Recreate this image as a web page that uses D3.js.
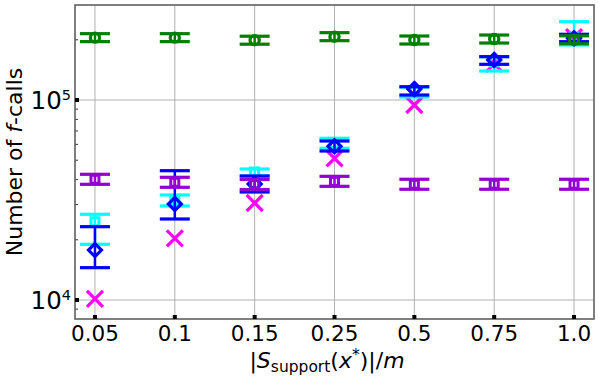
<!DOCTYPE html>
<html><head><meta charset="utf-8">
<script src="https://cdn.jsdelivr.net/npm/d3@7"></script>
<style>body{margin:0;background:#fff}svg{display:block}</style></head>
<body><svg id="c" width="598" height="386"></svg>
<script>
// ---- data ----
const categories = ["0.05", "0.1", "0.15", "0.25", "0.5", "0.75", "1.0"];

const greenVal = [205000, 205000, 199000, 207300, 199500, 201800, 200000];
const greenLo  = [195800, 195800, 190100, 198000, 190500, 192700, 191000];
const greenHi  = [214600, 214600, 208400, 217100, 208900, 211300, 209400];

const purpleVal = [40130, 38770, 37800, 39200, 37900, 37900, 37900];
const purpleLo  = [37880, 36600, 35680, 37010, 35780, 35780, 35780];
const purpleHi  = [42510, 41070, 40040, 41530, 40150, 40150, 40150];

const cyanVal = [24640, 31620, 43650, 60950, 110900, 154900, 206500];
const cyanLo  = [18990, 29510, 41690, 57340, 103500, 139600, 188400];
const cyanHi  = [26830, 33500, 45190, 64340, 116100, 164700, 246400];

const blueVal = [17780, 30200, 38020, 58690, 113500, 158500, 203500];
const blueLo  = [14510, 25410, 34670, 55590, 105900, 150800, 195700];
const blueHi  = [23260, 44320, 41690, 62370, 116500, 164700, 213100];

const magentaVal = [10120, 20350, 30550, 51110, 94410, 151400, 206500];

const yMajorTicks = [1e4, 1e5];
const yMinorTicks = [9e3, 2e4, 3e4, 4e4, 5e4, 6e4, 7e4, 8e4, 9e4, 2e5, 3e5];

// ---- layout ----
const svg = d3.select("#c");
const L = 75, R = 594, T = 5, B = 319;
const font = "'DejaVu Sans', sans-serif";

const x = d3.scalePoint().domain(categories).range([L, R]).padding(0.25);
const y = d3.scaleLog().domain([Math.pow(10, 3.905), Math.pow(10, 5.475)]).range([B, T]);

// grid
const grid = svg.append("g").attr("stroke", "#b0b0b0").attr("stroke-width", 1);
categories.forEach(c => grid.append("line").attr("x1", x(c)).attr("x2", x(c)).attr("y1", T).attr("y2", B));
yMajorTicks.forEach(v => grid.append("line").attr("x1", L).attr("x2", R).attr("y1", y(v)).attr("y2", y(v)));

// minor ticks (inside, left)
yMinorTicks.forEach(v => {
  if (y(v) > T && y(v) < B)
    svg.append("line").attr("x1", L).attr("x2", L + 3).attr("y1", y(v)).attr("y2", y(v))
      .attr("stroke", "#333").attr("stroke-width", 1);
});

// series drawing
const capHalf = 15;
function drawSeries(vals, lo, hi, color, shape) {
  const g = svg.append("g");
  vals.forEach((v, i) => {
    const cx = x(categories[i]);
    if (lo) {
      g.append("line").attr("x1", cx).attr("x2", cx).attr("y1", y(lo[i])).attr("y2", y(hi[i]))
        .attr("stroke", color).attr("stroke-width", 2.5);
      [lo[i], hi[i]].forEach(e => g.append("line")
        .attr("x1", cx - capHalf).attr("x2", cx + capHalf).attr("y1", y(e)).attr("y2", y(e))
        .attr("stroke", color).attr("stroke-width", 3.2));
    }
    const cy = y(v);
    if (shape === "circle") {
      g.append("circle").attr("cx", cx).attr("cy", cy).attr("r", 4.6)
        .attr("fill", "none").attr("stroke", color).attr("stroke-width", 3.2);
    } else if (shape === "square") {
      g.append("rect").attr("x", cx - 4).attr("y", cy - 4).attr("width", 8).attr("height", 8)
        .attr("fill", "none").attr("stroke", color).attr("stroke-width", 3);
    } else if (shape === "diamond") {
      const s = 6.5;
      g.append("path").attr("d", `M${cx},${cy - s}L${cx + s},${cy}L${cx},${cy + s}L${cx - s},${cy}Z`)
        .attr("fill", "none").attr("stroke", color).attr("stroke-width", 3.2);
    } else if (shape === "x") {
      const s = 8;
      g.append("path").attr("d", `M${cx - s},${cy - s}L${cx + s},${cy + s}M${cx - s},${cy + s}L${cx + s},${cy - s}`)
        .attr("fill", "none").attr("stroke", color).attr("stroke-width", 3.2);
    }
  });
}

drawSeries(magentaVal, null, null, "#ff00ff", "x");
drawSeries(cyanVal, cyanLo, cyanHi, "#00ffff", "square");
drawSeries(blueVal, blueLo, blueHi, "#0000ff", "diamond");
drawSeries(purpleVal, purpleLo, purpleHi, "#9400d3", "square");
drawSeries(greenVal, greenLo, greenHi, "#008000", "circle");

// frame
svg.append("rect").attr("x", L).attr("y", T).attr("width", R - L).attr("height", B - T)
  .attr("fill", "none").attr("stroke", "#606060").attr("stroke-width", 1.6);

// major ticks (black squares)
categories.forEach(c => svg.append("rect").attr("x", x(c) - 2).attr("y", B - 4).attr("width", 4).attr("height", 4).attr("fill", "#000"));
yMajorTicks.forEach(v => svg.append("rect").attr("x", L).attr("y", y(v) - 2).attr("width", 4).attr("height", 4).attr("fill", "#000"));

// x tick labels
categories.forEach(c => svg.append("text").attr("x", x(c)).attr("y", 341)
  .attr("text-anchor", "middle").attr("font-family", font).attr("font-size", 21.5).attr("fill", "#000").text(c));

// y tick labels
yMajorTicks.forEach(v => {
  const e = Math.round(Math.log10(v));
  const t = svg.append("text").attr("x", 71).attr("y", y(v) + 9.3)
    .attr("text-anchor", "end").attr("font-family", font).attr("font-size", 24.5).attr("fill", "#000");
  t.append("tspan").text("10");
  t.append("tspan").attr("dy", -9.5).attr("font-size", 14.5).text(String(e));
});

// x label
const xl = svg.append("text").attr("x", 327).attr("y", 368).attr("text-anchor", "middle")
  .attr("font-family", font).attr("font-size", 22).attr("fill", "#000");
xl.append("tspan").text("|");
xl.append("tspan").attr("font-style", "italic").text("S");
xl.append("tspan").attr("font-size", 15.5).attr("dy", 4).text("support");
xl.append("tspan").attr("dy", -4).text("(");
xl.append("tspan").attr("font-style", "italic").text("x");
xl.append("tspan").attr("font-size", 15.5).attr("dy", -8).text("*");
xl.append("tspan").attr("dy", 8).text(")|/");
xl.append("tspan").attr("font-style", "italic").text("m");

// y label
const yl = svg.append("text").attr("transform", "translate(22,162) rotate(-90)").attr("text-anchor", "middle")
  .attr("font-family", font).attr("font-size", 22).attr("fill", "#000");
yl.append("tspan").text("Number of ");
yl.append("tspan").attr("font-style", "italic").text("f");
yl.append("tspan").text("-calls");
</script>
</body></html>
